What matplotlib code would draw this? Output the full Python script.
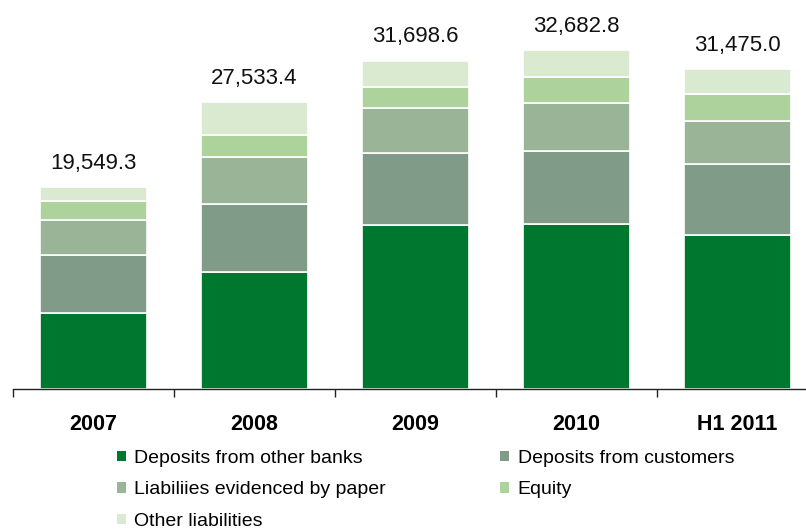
import numpy as np
import matplotlib
matplotlib.use("Agg")
import matplotlib.pyplot as plt
from matplotlib.patches import Patch

plt.rcParams["font.family"] = ["Liberation Sans", "DejaVu Sans"]

periods = ["2007", "2008", "2009", "2010", "H1 2011"]
totals = ["19,549.3", "27,533.4", "31,698.6", "32,682.8", "31,475.0"]

# segment values (bottom to top)
deposits_banks = [7382, 11310, 15854, 15903, 14880]
deposits_customers = [5529, 6562, 6898, 7112, 6852]
paper = [3416, 4564, 4396, 4632, 4111]
equity = [1862, 2027, 2020, 2413, 2606]
other = [1283, 3185, 2530, 2623, 2384]

series = [
    ("Deposits from other banks", deposits_banks, "#00772F"),
    ("Deposits from customers", deposits_customers, "#809B87"),
    ("Liabiliies evidenced by paper", paper, "#9AB497"),
    ("Equity", equity, "#AED29B"),
    ("Other liabilities", other, "#DAEAD1"),
]

fig = plt.figure(figsize=(8.06, 5.32), dpi=100)
ax = fig.add_axes([13 / 806, 1 - 389 / 532, 1 - 13 / 806, 389 / 532])

x = np.arange(len(periods))
bottom = np.zeros(len(periods))
for name, vals, color in series:
    ax.bar(x, vals, width=0.665, bottom=bottom, color=color,
           edgecolor="white", linewidth=1.2, label=name)
    bottom += np.array(vals)

for xi, top, lab in zip(x, bottom, totals):
    ax.annotate(lab, (xi, top), xytext=(0, 17), textcoords="offset points",
                ha="center", va="center", fontsize=16, color="#111111")

ax.set_xlim(-0.5, 4.425)
ax.set_ylim(0, 389 * 96.5)

for s in ["top", "right", "left"]:
    ax.spines[s].set_visible(False)
ax.spines["bottom"].set_linewidth(1.0)
ax.spines["bottom"].set_color("#222222")
ax.set_yticks([])

ax.set_xticks(x, periods, fontsize=15.5, fontweight="bold")
ax.tick_params(axis="x", which="major", length=0, pad=18)
ax.set_xticks(np.arange(-0.5, 4.0, 1.0), minor=True)
ax.tick_params(axis="x", which="minor", length=6, width=1.0, color="#222222")

handles = [Patch(facecolor=c, edgecolor="none") for _, _, c in series]
names = [n for n, _, _ in series]
order = [0, 2, 4, 1, 3]
fig.legend([handles[i] for i in order], [names[i] for i in order],
           loc="upper left", bbox_to_anchor=(117 / 806, 1 - 450 / 532),
           ncol=2, frameon=False, fontsize=14, borderpad=0, borderaxespad=0,
           handlelength=0.45, handleheight=0.45, handletextpad=0.45,
           labelspacing=0.74, columnspacing=5.85)

fig.savefig("out.png", dpi=100)
